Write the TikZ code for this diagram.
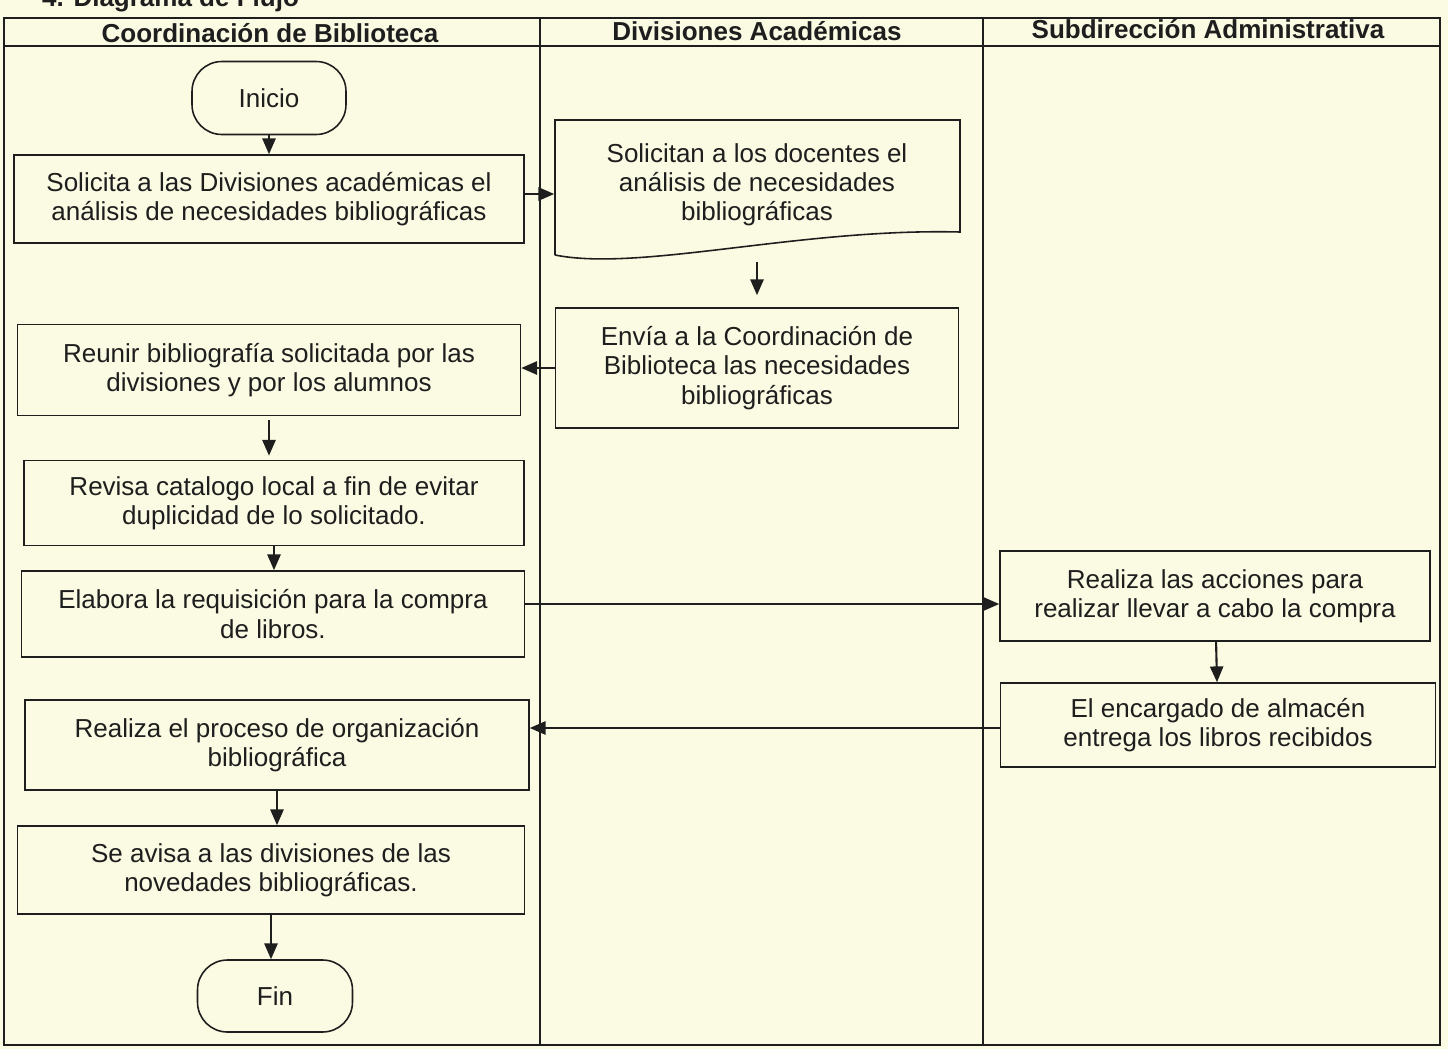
\documentclass[tikz,border=0pt]{standalone}
\usepackage{fontspec}
\setmainfont{Liberation Sans}
\usetikzlibrary{arrows.meta}
\definecolor{papel}{RGB}{251,250,226}
\definecolor{tinta}{RGB}{30,30,30}

\begin{document}
\begin{tikzpicture}[x=0.02cm, y=-0.02cm, color=tinta,
  font=\fontsize{14.8}{16.6}\selectfont,
  caja/.style={draw, rectangle, line width=0.9pt, align=center, inner sep=2pt},
  terminal/.style={draw, rectangle, rounded corners=17pt, line width=0.9pt, minimum width=3.08cm, minimum height=1.46cm},
  carril/.style={font=\fontsize{14.8}{16.6}\selectfont\bfseries},
  flecha/.style={-{Triangle[length=9pt, width=7.5pt]}, line width=1.2pt}]
  \fill[papel] (0,0) rectangle (1448,1049);
  \useasboundingbox (0,0) rectangle (1448,1049);

  \node (titulo) [carril, anchor=base west] at (36,6) {4. Diagrama de Flujo};
  \draw[line width=0.9pt] (4,18) rectangle (1440,1045);
  \draw[line width=0.9pt] (4,46) -- (1440,46);
  \draw[line width=0.9pt] (540,18) -- (540,1045);
  \draw[line width=0.9pt] (983,18) -- (983,1045);
  \node (carrilA) [carril] at (270,33) {Coordinación de Biblioteca};
  \node (carrilB) [carril] at (757,31) {Divisiones Académicas};
  \node (carrilC) [carril] at (1208,29) {Subdirección Administrativa};

  \node (inicio) [terminal] at (269,98) {Inicio};
  \node (solicita) [caja, minimum width=10.2cm, minimum height=1.76cm] at (269,199) {Solicita a las Divisiones académicas el\\análisis de necesidades bibliográficas};
  \node (solicitan) [align=center, minimum width=8.1cm, minimum height=2.6cm] at (757,185) {Solicitan a los docentes el\\análisis de necesidades\\bibliográficas};
  \draw[line width=0.9pt] (555,255) -- (555,120) -- (960,120) -- (960,232) .. controls (800,228) and (640,272) .. (555,255);
  \node (envia) [caja, minimum width=8.06cm, minimum height=2.4cm] at (757,368) {Envía a la Coordinación de\\Biblioteca las necesidades\\bibliográficas};
  \node (reunir) [caja, minimum width=10.06cm, minimum height=1.82cm] at (269,370) {Reunir bibliografía solicitada por las\\divisiones y por los alumnos};
  \node (revisa) [caja, minimum width=10cm, minimum height=1.7cm] at (274,503) {Revisa catalogo local a fin de evitar\\duplicidad de lo solicitado.};
  \node (elabora) [caja, minimum width=10.06cm, minimum height=1.72cm] at (273,614) {Elabora la requisición para la compra\\de libros.};
  \node (acciones) [caja, minimum width=8.6cm, minimum height=1.8cm] at (1215,596) {Realiza las acciones para\\realizar llevar a cabo la compra};
  \node (encargado) [caja, minimum width=8.7cm, minimum height=1.68cm] at (1218,725) {El encargado de almacén\\entrega los libros recibidos};
  \node (proceso) [caja, minimum width=10.08cm, minimum height=1.8cm] at (277,745) {Realiza el proceso de organización\\bibliográfica};
  \node (avisa) [caja, minimum width=10.14cm, minimum height=1.76cm] at (271,870) {Se avisa a las divisiones de las\\novedades bibliográficas.};
  \node (fin) [terminal, minimum width=3.1cm, minimum height=1.44cm] at (275,996) {Fin};

  \draw[flecha] (inicio) -- (solicita);
  \draw[flecha] ([yshift=0.1cm]solicita.east) -- ([yshift=0.1cm]solicita.east -| solicitan.west);
  \draw[flecha, shorten >=0.24cm] ([yshift=-0.24cm]solicitan.south) -- (envia.north);
  \draw[flecha] (envia.west) -- (envia.west -| reunir.east);
  \draw[flecha, shorten <=0.08cm, shorten >=0.08cm] (reunir.south) -- (reunir.south |- revisa.north);
  \draw[flecha] (revisa.south) -- (revisa.south |- elabora.north);
  \draw[flecha] ([yshift=0.2cm]elabora.east) -- ([yshift=0.2cm]elabora.east -| acciones.west);
  \draw[flecha] (acciones) -- (encargado);
  \draw[flecha] ([yshift=-0.06cm]encargado.west) -- ([yshift=-0.06cm]encargado.west -| proceso.east);
  \draw[flecha] (proceso) -- (proceso |- avisa.north);
  \draw[flecha] (avisa.south) -- (avisa.south |- fin.north);
\end{tikzpicture}
\end{document}
